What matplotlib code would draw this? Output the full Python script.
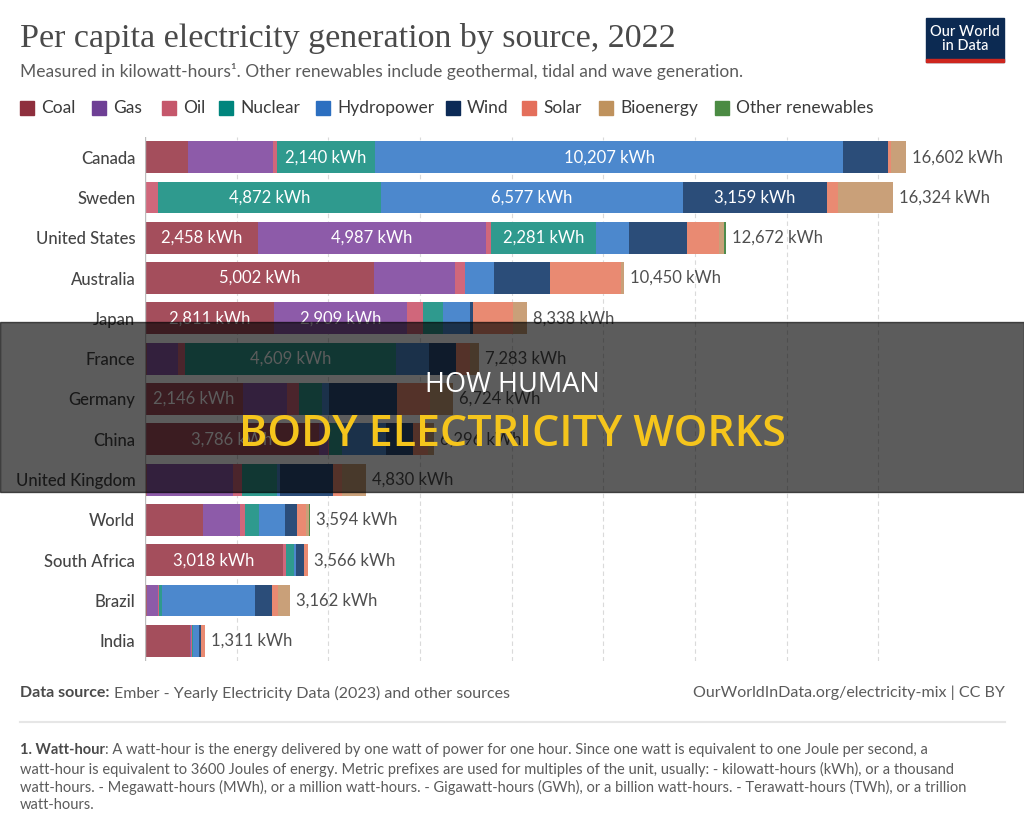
import matplotlib.pyplot as plt
import matplotlib.patches as patches
import numpy as np

plt.rcParams['font.family'] = ['Lato', 'DejaVu Sans']

countries = ['Canada', 'Sweden', 'United States', 'Australia', 'Japan', 'France',
             'Germany', 'China', 'United Kingdom', 'World', 'South Africa', 'Brazil', 'India']
totals = [16602, 16324, 12672, 10450, 8338, 7283, 6724, 6296, 4830, 3594, 3566, 3162, 1311]

sources = ['Coal', 'Gas', 'Oil', 'Nuclear', 'Hydropower', 'Wind', 'Solar', 'Bioenergy', 'Other renewables']
coal = [940, 0, 2458, 5002, 2811, 40, 2146, 3786, 50, 1265, 3018, 40, 980]
gas = [1850, 0, 4987, 1770, 2909, 680, 960, 200, 1870, 800, 0, 240, 30]
oil = [90, 280, 110, 200, 350, 150, 260, 20, 200, 120, 50, 30, 10]
nuclear = [2140, 4872, 2281, 0, 436, 4609, 500, 290, 770, 305, 180, 70, 30]
hydro = [10207, 6577, 720, 650, 590, 720, 140, 960, 60, 567, 40, 2030, 130]
wind = [985, 3159, 1276, 1220, 70, 590, 1500, 580, 1150, 255, 170, 370, 50]
solar = [70, 240, 700, 1538, 870, 300, 720, 340, 200, 210, 108, 130, 70]
bio = [320, 1196, 90, 70, 302, 194, 498, 120, 530, 60, 0, 252, 11]
other = [0, 0, 50, 0, 0, 0, 0, 0, 0, 12, 0, 0, 0]

bar_colors = ['#a44e5c', '#8d5ba9', '#d0677b', '#2f9a8e', '#4c88cd', '#2b4d79',
              '#e98a72', '#c9a079', '#4e8c4c']
key_colors = ['#8e2f3d', '#6e3f95', '#c5576b', '#00857d', '#2c6fc0', '#0c2a56',
              '#e46f5b', '#bf925d', '#4b8b43']

W, H = 1024, 832
fig = plt.figure(figsize=(W / 100, H / 100), dpi=100)
renderer = fig.canvas.get_renderer()


def fx(px):
    return px / W


def fy(py):
    return 1 - py / H


def text_after(t, gap=0):
    # x (pixels) just right of a text already placed
    return t.get_window_extent(renderer).x1 + gap


# plot area
ax = fig.add_axes([fx(145), fy(661), fx(1000 - 145), fy(137) - fy(661)])
xmax = 855 / (761 / 16602)
ax.set_xlim(0, xmax)
ax.set_ylim(len(countries) - 0.5, -0.5)

for gx in range(2000, 17000, 2000):
    ax.axvline(gx, color='#dadada', lw=0.8, ls=(0, (4, 3)), zorder=0)
ax.axvline(0, color='#bdbdbd', lw=1, zorder=3)

series = [coal, gas, oil, nuclear, hydro, wind, solar, bio, other]
y = np.arange(len(countries))
left = np.zeros(len(countries))
for vals, col in zip(series, bar_colors):
    vals = np.array(vals, dtype=float)
    ax.barh(y, vals, left=left, height=0.79, color=col, edgecolor='none', zorder=2)
    for i, v in enumerate(vals):
        if v > 2100:
            ax.text(left[i] + v / 2, i, f'{int(v):,} kWh', ha='center', va='center',
                    color='white', fontsize=12, zorder=4)
    left += vals

for i, t in enumerate(totals):
    ax.text(left[i] + 130, i, f'{t:,} kWh', ha='left', va='center',
            color='#4f4f4f', fontsize=12)

ax.set_yticks(y)
ax.set_yticklabels(countries, fontsize=12, color='#454545', weight='medium')
ax.tick_params(axis='y', length=0, pad=7)
ax.set_xticks([])
for s in ax.spines.values():
    s.set_visible(False)

# header
fig.text(fx(20), fy(38), 'Per capita electricity generation by source, 2022',
         family=['Liberation Serif', 'DejaVu Serif'], fontsize=24.5, color='#4a4a4a',
         va='center', ha='left')
fig.text(fx(20), fy(71), 'Measured in kilowatt-hours¹. Other renewables include geothermal, '
         'tidal and wave generation.', fontsize=12.5, color='#5b5b5b', va='center')

key_x = [20, 92, 162, 219, 316, 446, 522, 599, 715]
for kx, name, col in zip(key_x, sources, key_colors):
    fig.add_artist(patches.Rectangle((fx(kx), fy(115)), fx(14), fy(101) - fy(115),
                                     transform=fig.transFigure, color=col))
    fig.text(fx(kx + 21), fy(108), name, fontsize=12.5, color='#3a3a3a', va='center')

# logo
fig.add_artist(patches.Rectangle((fx(926), fy(62)), fx(78), fy(18) - fy(62),
                                 transform=fig.transFigure, color='#0c2a52'))
fig.add_artist(patches.Rectangle((fx(926), fy(62)), fx(78), fy(59) - fy(62),
                                 transform=fig.transFigure, color='#ce261e'))
fig.text(fx(965), fy(39), 'Our World\nin Data', ha='center', va='center', color='white',
         fontsize=10.5, weight='medium', linespacing=0.95)

# footer
ds = fig.text(fx(20), fy(693), 'Data source:', fontsize=11.5, color='#4a4a4a',
              va='center', weight='bold')
fig.text(fx(text_after(ds, 4)), fy(693),
         'Ember - Yearly Electricity Data (2023) and other sources',
         fontsize=11.5, color='#5b5b5b', va='center')
fig.text(fx(1005), fy(693), 'OurWorldInData.org/electricity-mix | CC BY', fontsize=11.5,
         color='#5b5b5b', va='center', ha='right')
fig.add_artist(plt.Line2D([fx(20), fx(1005)], [fy(722), fy(722)], color='#e6e6e6', lw=1.5))

notes = [
    'A watt-hour is the energy delivered by one watt of power for one hour. Since one watt is equivalent to one Joule per second, a',
    'watt-hour is equivalent to 3600 Joules of energy. Metric prefixes are used for multiples of the unit, usually: - kilowatt-hours (kWh), or a thousand',
    'watt-hours. - Megawatt-hours (MWh), or a million watt-hours. - Gigawatt-hours (GWh), or a billion watt-hours. - Terawatt-hours (TWh), or a trillion',
    'watt-hours.',
]
note_y = [750, 769, 787, 805]
wh = fig.text(fx(20), fy(note_y[0]), '1. Watt-hour', fontsize=10.5, color='#4a4a4a',
              weight='bold', va='center')
fig.text(fx(text_after(wh)), fy(note_y[0]), ': ' + notes[0], fontsize=10.5,
         color='#5b5b5b', va='center')
for ny, line in zip(note_y[1:], notes[1:]):
    fig.text(fx(20), fy(ny), line, fontsize=10.5, color='#5b5b5b', va='center')

# dark banner
fig.add_artist(patches.Rectangle((0, fy(492)), 1, fy(322) - fy(492),
                                 transform=fig.transFigure, color='black', alpha=0.64,
                                 zorder=10))
fig.text(0.5, fy(385), 'HOW HUMAN', ha='center', va='center', color='white',
         family=['Open Sans', 'DejaVu Sans'], fontsize=19.5, zorder=11)
fig.text(0.5, fy(434), 'BODY ELECTRICITY WORKS', ha='center', va='center',
         color='#f5c51c', family=['Open Sans', 'DejaVu Sans'], fontsize=31,
         weight='semibold', zorder=11)

fig.savefig('out.png', dpi=100)
